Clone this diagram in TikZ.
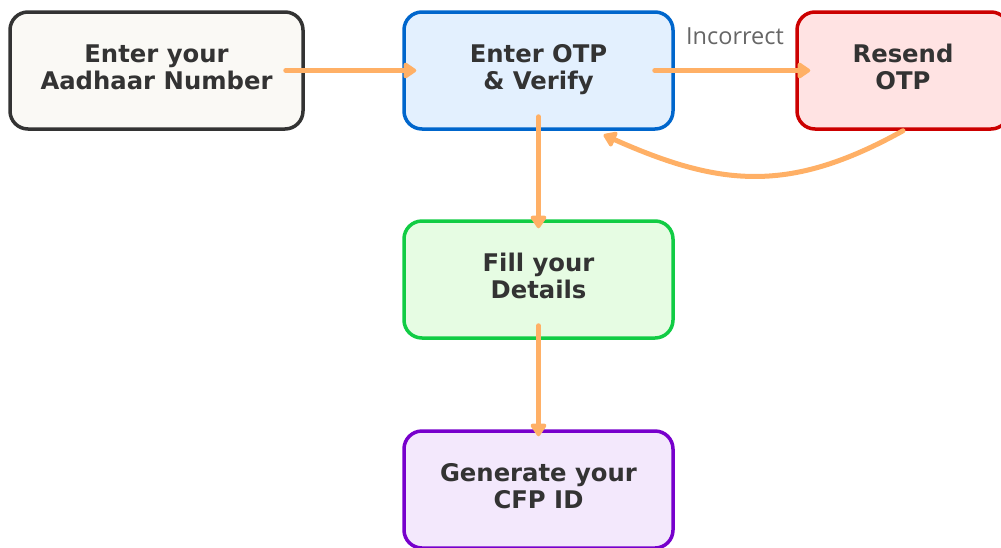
\documentclass[tikz,border=0pt]{standalone}
\usepackage{fontspec}
\setmainfont{DejaVu Sans}
\newfontfamily\nhanfont{Open Sans}
\usepackage{xcolor}
\definecolor{dncam}{HTML}{FFB066}
\definecolor{dnchu}{HTML}{333333}
\definecolor{dnkem}{HTML}{FAF9F5}
\definecolor{dnxanh}{HTML}{0066CC}
\definecolor{dnxanhnhat}{HTML}{E3F0FE}
\definecolor{dndam}{HTML}{CC0000}
\definecolor{dnhong}{HTML}{FFE3E3}
\definecolor{dnluc}{HTML}{11CC44}
\definecolor{dnlucnhat}{HTML}{E6FCE3}
\definecolor{dntim}{HTML}{7700CC}
\definecolor{dntimnhat}{HTML}{F3E8FC}
\def\mauduong{dncam}
\def\mauchu{dnchu}
\usepackage{tikz}
\usetikzlibrary{arrows.meta}

\begin{document}
\begin{tikzpicture}[x=1pt,y=1pt,declare function={%
			w=269;
			h=117;
			bo=18pt;
		}
		]%
		\tikzset{
			hop/.style 2 args={draw=#1,fill=#2,line width=3.5pt,rounded corners=bo,
				minimum width=w,minimum height=h,inner sep=0pt,align=center,text depth=7.5pt,
				text=\mauchu,font=\fontsize{24.3}{27}\selectfont\bfseries},
			luong/.style={draw=\mauduong,line width=5pt,line cap=round,
				-{Triangle[length=14pt,width=18pt,round]}},
			nhan/.style={font=\fontsize{23.5}{27}\nhanfont,text=\mauchu!75,inner sep=0pt}
		}
		\useasboundingbox (0,0) rectangle (1001,-547);
		\clip (0,0) rectangle (1001,-547);
		%% cac hop
		\node[hop={dnchu}{dnkem},minimum width=293] (aadhaar) at (156.5,-70.5) {Enter your\\Aadhaar Number};
		\node[hop={dnxanh}{dnxanhnhat}] (otp) at (538.5,-70.5) {Enter OTP\\\& Verify};
		\node[hop={dndam}{dnhong},minimum width=212] (resend) at (903,-70.5) {Resend\\OTP};
		\node[hop={dnluc}{dnlucnhat}] (details) at (538.5,-279.5) {Fill your\\Details};
		\node[hop={dntim}{dntimnhat}] (cfp) at (538.5,-489.5) {Generate your\\CFP ID};
		%% cac mui ten
		\draw[luong,shorten <=-19pt,shorten >=-14pt] (aadhaar) -- (otp);
		\draw[luong,shorten <=-20pt,shorten >=-15pt] (otp) -- node[midway,above=23pt,nhan] {Incorrect} (resend);
		\draw[luong,shorten <=-14pt,shorten >=-9pt] (otp) -- (details);
		\draw[luong,shorten <=-14pt,shorten >=-7pt] (details) -- (cfp);
		\draw[luong] (resend.south) to[out=209,in=-24,looseness=1.1] ([xshift=65pt,yshift=-4pt]otp.south);
	\end{tikzpicture}
\end{document}
